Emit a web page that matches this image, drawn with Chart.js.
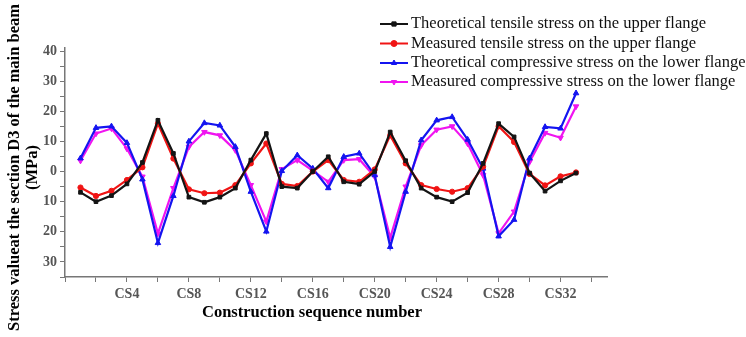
<!DOCTYPE html>
<html><head><meta charset="utf-8">
<script src="https://cdn.jsdelivr.net/npm/chart.js@4/dist/chart.umd.min.js"></script>
<style>html,body{margin:0;padding:0;background:#fff}#wrap{width:746px;height:337px;position:relative}</style>
</head><body><div id="wrap"><canvas id="c" width="746" height="337"></canvas></div>
<script>
const categories = ['CS1','CS2','CS3','CS4','CS5','CS6','CS7','CS8','CS9','CS10','CS11','CS12','CS13','CS14','CS15','CS16','CS17','CS18','CS19','CS20','CS21','CS22','CS23','CS24','CS25','CS26','CS27','CS28','CS29','CS30','CS31','CS32','CS33'];
const theoreticalTensileUpper = [-6.9,-10,-8,-4.1,3.0,17,6,-8.5,-10.2,-8.5,-5.5,3.8,12.6,-5,-5.5,0,4.9,-3.4,-4.2,0,13.1,3.6,-5.5,-8.5,-10,-7,2.7,15.9,11.5,-0.5,-6.5,-3.1,-0.5];
const measuredTensileUpper = [-5.3,-8.1,-6.4,-2.8,1.4,15.9,4.3,-5.9,-7.2,-7,-4.5,2.7,9.3,-4.1,-4.8,0,3.8,-2.8,-3.4,0.7,12,2.7,-4.5,-5.8,-6.7,-5.5,1.6,15,9.8,-0.8,-4.6,-1.6,-0.3];
const theoreticalCompressiveLower = [4.4,14.5,15,9.5,-2.6,-23.7,-8.1,10,16.1,15.3,8.2,-6.7,-19.9,0.2,5.4,1,-5.5,4.9,6,-1.2,-25,-6.7,10.4,17,18.1,10.6,1,-21.5,-16,4.4,14.8,14.3,26];
const measuredCompressiveLower = [3.6,12.6,14.3,7.6,-1.7,-20.6,-5.5,8.2,13.1,12,7.1,-4.5,-16.6,0.8,3.8,0.3,-3.4,3.8,4.1,-1.7,-22,-5,8.7,13.9,15,9.3,-1.2,-20.5,-13.3,3.2,12.8,11.2,21.6];
const xTickLabels = ['CS4','CS8','CS12','CS16','CS20','CS24','CS28','CS32'];
const yTickLabels = ['30','20','10','0','10','20','30','40']; // for -30 ... 40
const yTickValues = [-30,-20,-10,0,10,20,30,40];
const seriesNames = ['Theoretical tensile stress on the upper flange','Measured tensile stress on the upper flange','Theoretical compressive stress on the lower flange','Measured compressive stress on the lower flange'];
const xTitle = 'Construction sequence number';
const yTitle = ['Stress valueat the section D3 of the main beam', '(MPa)'];

const catNum = c => parseInt(c.slice(2), 10);
const toPts = arr => arr.map((v, i) => ({x: catNum(categories[i]), y: v}));
const SERIF = "'Liberation Serif','Times New Roman',serif";

function mk(label, data, color, style, rot, r) {
  return {label, data: toPts(data), borderColor: color, backgroundColor: color,
    pointBackgroundColor: color, pointBorderColor: color, pointStyle: style,
    pointRotation: rot, pointRadius: r, borderWidth: 2.2, tension: 0, pointBorderWidth: 1};
}

const overlayPlugin = {
  id: 'overlay',
  afterDraw(chart) {
    const ctx = chart.ctx;
    ctx.save();
    const rows = [24, 43.5, 63, 82];
    chart.data.datasets.forEach((ds, i) => {
      const y = rows[i];
      ctx.strokeStyle = ds.borderColor; ctx.lineWidth = 2;
      ctx.beginPath(); ctx.moveTo(380, y); ctx.lineTo(408, y); ctx.stroke();
      ctx.fillStyle = ds.pointBackgroundColor; ctx.strokeStyle = ds.pointBorderColor; ctx.lineWidth = 1;
      Chart.helpers.drawPoint(ctx, {pointStyle: ds.pointStyle, radius: 3, rotation: ds.pointRotation || 0, borderWidth: 1}, 394, y);
      ctx.fillStyle = '#111';
      ctx.font = "16.5px " + SERIF;
      ctx.textBaseline = 'middle'; ctx.textAlign = 'left';
      ctx.fillText(ds.label, 411, y);
    });
    // axis titles
    ctx.fillStyle = '#000';
    ctx.font = "bold 16.5px " + SERIF;
    ctx.textAlign = 'center'; ctx.textBaseline = 'middle';
    ctx.fillText(xTitle, 312, 313);
    ctx.save();
    ctx.translate(15, 167.5);
    ctx.rotate(-Math.PI / 2);
    ctx.fillText(yTitle[0], 0, 0);
    ctx.fillText(yTitle[1], 0, 18);
    ctx.restore();
    ctx.restore();
  }
};

new Chart(document.getElementById('c'), {
  type: 'line',
  data: {
    datasets: [
      mk(seriesNames[0], theoreticalTensileUpper, '#141414', 'rect', 0, 2.6),
      mk(seriesNames[1], measuredTensileUpper, '#f01414', 'circle', 0, 2.6),
      mk(seriesNames[2], theoreticalCompressiveLower, '#1414f0', 'triangle', 0, 3.2),
      mk(seriesNames[3], measuredCompressiveLower, '#f014f0', 'triangle', 180, 3.2)
    ]
  },
  plugins: [overlayPlugin],
  options: {
    responsive: false, animation: false, devicePixelRatio: 1,
    layout: {padding: {left: 0, right: 139, top: 48, bottom: 0}},
    plugins: {legend: {display: false}, tooltip: {enabled: false}},
    scales: {
      x: {
        type: 'linear', min: 0, max: 35,
        afterBuildTicks: (axis) => { const t = []; for (let v = 0; v <= 34; v += 2) t.push({value: v}); axis.ticks = t; },
        afterFit: (s) => { s.height = 60; },
        ticks: {
          autoSkip: false, maxRotation: 0, padding: 4, color: '#555',
          font: {family: SERIF, size: 14, weight: 'bold'},
          callback: (v) => { const l = 'CS' + v; return xTickLabels.includes(l) ? l : ''; }
        },
        grid: {drawOnChartArea: false, color: '#777', tickLength: 5},
        border: {color: '#777', width: 1.5},
        title: {display: false}
      },
      y: {
        min: -35, max: 41,
        afterBuildTicks: (axis) => { const t = []; for (let v = -35; v <= 40; v += 5) t.push({value: v}); axis.ticks = t; },
        afterFit: (s) => { s.width = 65; },
        ticks: {
          autoSkip: false, padding: 3, color: '#555',
          font: {family: SERIF, size: 14, weight: 'bold'},
          callback: (v) => { const k = yTickValues.indexOf(v); return k >= 0 ? yTickLabels[k] : ''; }
        },
        grid: {drawOnChartArea: false, color: '#777', tickLength: 5},
        border: {color: '#777', width: 1.5},
        title: {display: false}
      }
    }
  }
});
</script>
</body></html>
